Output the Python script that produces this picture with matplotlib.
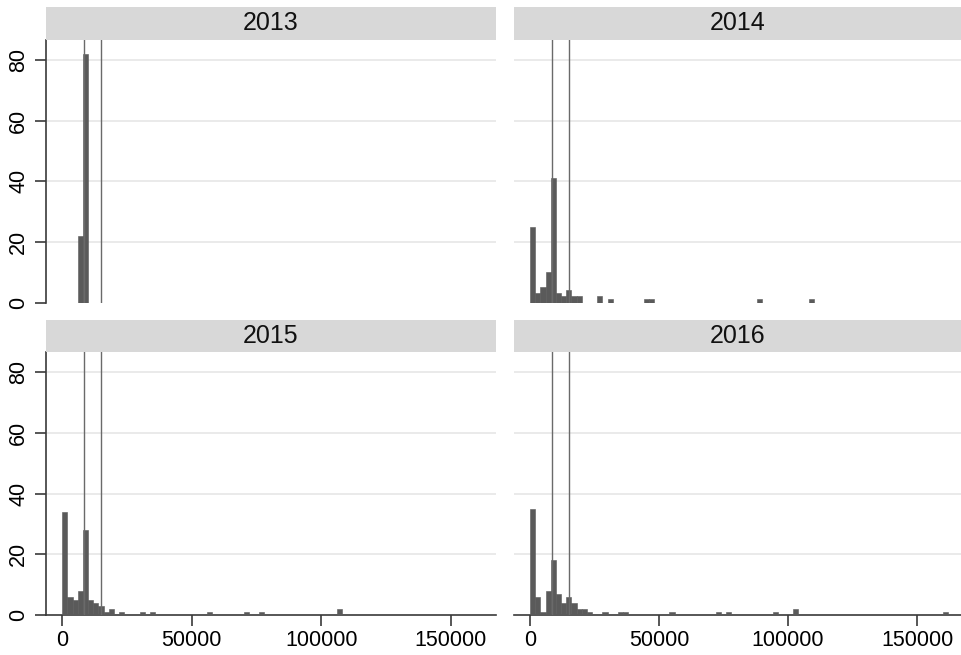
import matplotlib
matplotlib.use('Agg')
import matplotlib.pyplot as plt

plt.rcParams['font.family'] = ['Liberation Sans', 'DejaVu Sans']

BIN_WIDTH = 2000
years = ['2013', '2014', '2015', '2016']

# left edge of each occupied bin and its frequency, per year
bins_2013 = [6000, 8000]
counts_2013 = [22, 82]

bins_2014 = [0, 2000, 4000, 6000, 8000, 10000, 12000, 14000, 16000, 18000,
             26000, 30000, 44000, 46000, 88000, 108000]
counts_2014 = [25, 3, 5, 10, 41, 3, 2, 4, 2, 2,
               2, 1, 1, 1, 1, 1]

bins_2015 = [0, 2000, 4000, 6000, 8000, 10000, 12000, 14000, 16000, 18000,
             22000, 30000, 34000, 56000, 70000, 76000, 106000]
counts_2015 = [34, 6, 5, 8, 28, 5, 4, 3, 1, 2,
               1, 1, 1, 1, 1, 1, 2]

bins_2016 = [0, 2000, 4000, 6000, 8000, 10000, 12000, 14000, 16000, 18000,
             20000, 22000, 28000, 34000, 36000, 54000, 72000, 76000, 94000,
             102000, 160000]
counts_2016 = [35, 6, 1, 8, 18, 7, 4, 6, 4, 2,
               2, 1, 1, 1, 1, 1, 1, 1, 1,
               2, 1]

ref_lines = [8500, 15000]
y_ticks = [0, 20, 40, 60, 80]
x_ticks = [0, 50000, 100000, 150000]

data = {
    '2013': (bins_2013, counts_2013),
    '2014': (bins_2014, counts_2014),
    '2015': (bins_2015, counts_2015),
    '2016': (bins_2016, counts_2016),
}

W, H = 962, 655
fig = plt.figure(figsize=(W / 100, H / 100), dpi=100)

# panel boxes in pixels: (left, right, top of strip, top of plot, bottom of plot)
boxes = {
    '2013': (46, 496, 7, 40, 302.5),
    '2014': (514, 962, 7, 40, 302.5),
    '2015': (46, 496, 320, 352, 615),
    '2016': (514, 962, 320, 352, 615),
}

bar_color = '#5a5a5a'
axis_color = '#3a3a3a'

for i, year in enumerate(years):
    left, right, strip_top, plot_top, plot_bottom = boxes[year]
    is_left = i % 2 == 0
    is_bottom = i >= 2

    ax = fig.add_axes([left / W, 1 - plot_bottom / H,
                       (right - left) / W, (plot_bottom - plot_top) / H])
    bins, counts = data[year]
    ax.bar(bins, counts, width=BIN_WIDTH, align='edge', color=bar_color,
           edgecolor=bar_color, linewidth=0.4, zorder=3)
    for xv in ref_lines:
        ax.axvline(xv, color='#6a6a6a', lw=1.0, zorder=4)

    ax.set_xlim(-6250, 167400)
    ax.set_ylim(0, 86.7)
    ax.set_yticks(y_ticks)
    ax.set_xticks(x_ticks)
    for yv in y_ticks[1:]:
        ax.axhline(yv, color='#e8e8e8', lw=1.3, zorder=1)

    for side in ['top', 'right', 'left', 'bottom']:
        ax.spines[side].set_visible(False)
    ax.spines['left'].set_color(axis_color)
    ax.spines['bottom'].set_color(axis_color)
    ax.spines['left'].set_linewidth(1.2)
    ax.spines['bottom'].set_linewidth(1.2)

    if is_left:
        ax.spines['left'].set_visible(True)
        ax.tick_params(axis='y', length=8, width=1.2, color=axis_color,
                       labelsize=15.5, pad=4)
        ax.set_yticklabels([str(v) for v in y_ticks], rotation=90, va='center')
    else:
        ax.tick_params(axis='y', length=0, labelleft=False)

    if is_bottom:
        ax.spines['bottom'].set_visible(True)
        ax.tick_params(axis='x', length=8, width=1.2, color=axis_color,
                       labelsize=15.5, pad=3)
        ax.set_xticklabels([str(v) for v in x_ticks])
    else:
        ax.tick_params(axis='x', length=0, labelbottom=False)

    # facet header strip
    sax = fig.add_axes([left / W, 1 - plot_top / H,
                        (right - left) / W, (plot_top - strip_top) / H])
    sax.set_facecolor('#d8d8d8')
    sax.set_xticks([])
    sax.set_yticks([])
    for side in sax.spines.values():
        side.set_visible(False)
    sax.text(0.5, 0.5, year, ha='center', va='center', fontsize=18,
             color='#111111', transform=sax.transAxes)

fig.savefig('out.png', dpi=100)
